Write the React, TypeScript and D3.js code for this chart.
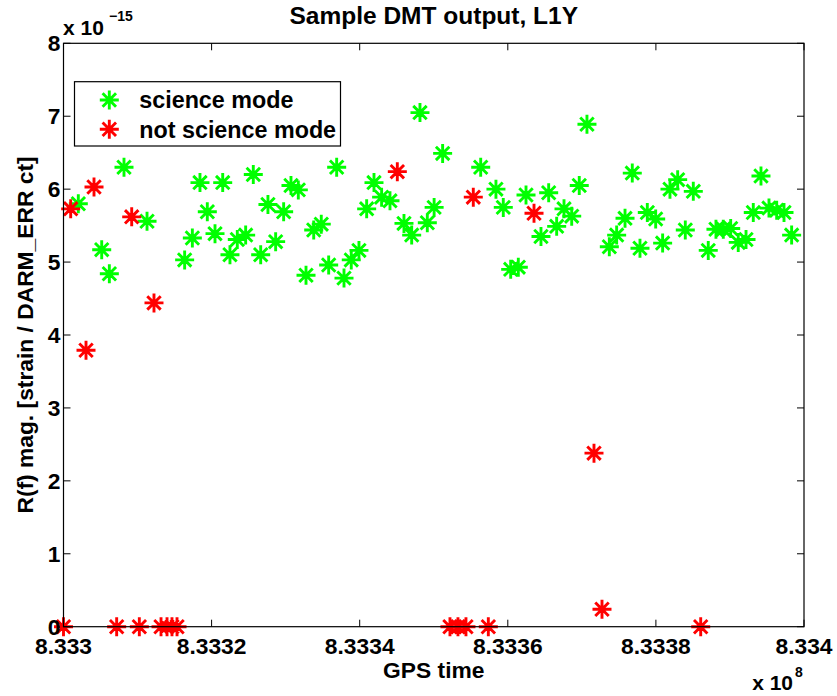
import React from "react";
import * as d3 from "d3";

// GPS time offsets (s) from 833300000, values in units of 1e-15
const scienceTime = [
  2000, 5160, 6190, 8170, 11280, 16360, 17400, 18430, 19420, 20460, 21500, 22480, 23470, 24600,
  25630, 26630, 27610, 28650, 29730, 30720, 31710, 32750, 33790, 34810, 35810, 36890, 37880,
  38860, 39900, 40940, 41930, 42960, 44090, 45980, 47020, 48140, 49130, 50050, 51200, 56340,
  58400, 59390, 60390, 61420, 62460, 64480, 65520, 66600, 67590, 68630, 69650, 70690, 73710,
  74700, 75830, 76810, 77850, 78840, 79970, 80910, 81900, 82940, 83970, 85050, 87070, 88110,
  89100, 90100, 91120, 92170, 93150, 94190, 95270, 96310, 97300, 98330,
];
const scienceValue = [
  5.80, 5.17, 4.84, 6.30, 5.56, 5.03, 5.33, 6.09, 5.69, 5.39, 6.09, 5.10, 5.31, 5.37,
  6.20, 5.10, 5.79, 5.28, 5.69, 6.05, 5.99, 4.82, 5.44, 5.52, 4.96, 6.30, 4.78,
  5.03, 5.16, 5.73, 6.09, 5.89, 5.84, 5.53, 5.37, 7.05, 5.54, 5.75, 6.49, 6.30,
  6.00, 5.75, 4.90, 4.93, 5.92, 5.35, 5.95, 5.49, 5.73, 5.63, 6.05, 6.89, 5.21,
  5.37, 5.60, 6.22, 5.19, 5.68, 5.59, 5.26, 6.00, 6.13, 5.44, 5.97, 5.16, 5.45,
  5.45, 5.46, 5.27, 5.31, 5.68, 6.18, 5.74, 5.71, 5.68, 5.37,
];
const notScienceTime = [
  0, 970, 3040, 4120, 7180, 9210, 10240, 12220, 13170, 13980, 14650, 15330, 45080,
  52190, 53270, 54350, 55340, 57370, 63540, 71640, 72720, 86050,
];
const notScienceValue = [
  0, 5.73, 3.79, 6.03, 0, 5.62, 0, 4.44, 0, 0, 0, 0, 6.24,
  0, 0, 0, 5.89, 0, 5.67, 2.38, 0.24, 0,
];

const gpsBase = 833300000;
const xTicks = [0, 20000, 40000, 60000, 80000, 100000];
const xTickLabels = ["8.333", "8.3332", "8.3334", "8.3336", "8.3338", "8.334"];
const yTicks = [0, 1, 2, 3, 4, 5, 6, 7, 8];
const yTickLabels = ["0", "1", "2", "3", "4", "5", "6", "7", "8"];
const legendLabels = ["science mode", "not science mode"];
const seriesColors = ["#00ff00", "#ff0000"];

const W = 837;
const H = 696;
const L = 63.5, R = 804, T = 43.3, B = 626.7;
const FONT = "'Liberation Sans', Arial, Helvetica, sans-serif";
const FS = 22.8;

function star(cx: number, cy: number, r: number) {
  const d = r * Math.SQRT1_2;
  return `M${cx - r},${cy}L${cx + r},${cy}M${cx},${cy - r}L${cx},${cy + r}` +
    `M${cx - d},${cy - d}L${cx + d},${cy + d}M${cx - d},${cy + d}L${cx + d},${cy - d}`;
}

export default function App() {
  const x = d3.scaleLinear().domain([gpsBase, gpsBase + 100000]).range([L, R]);
  const y = d3.scaleLinear().domain([0, 8]).range([B, T]);
  const r = 9.5;
  const sw = 2.9;
  const tick = 7;
  const series = [
    { t: scienceTime, v: scienceValue, c: seriesColors[0] },
    { t: notScienceTime, v: notScienceValue, c: seriesColors[1] },
  ];
  return (
    <svg width={W} height={H} style={{ position: "absolute", left: 0, top: 0, background: "#fff" }}
      fontFamily={FONT} fontWeight="bold">
      <rect x={0} y={0} width={W} height={H} fill="#fff" />
      {/* points */}
      {series.map((s, si) => (
        <path key={si}
          d={s.t.map((t, i) => star(x(gpsBase + t), y(s.v[i]), r)).join("")}
          stroke={s.c} strokeWidth={sw} fill="none" />
      ))}
      {/* axes box */}
      <rect x={L} y={T} width={R - L} height={B - T} fill="none" stroke="#000" strokeWidth={1.2} />
      {xTicks.map((t, i) => (
        <g key={"x" + i}>
          <line x1={x(gpsBase + t)} x2={x(gpsBase + t)} y1={B} y2={B - tick} stroke="#000" />
          <line x1={x(gpsBase + t)} x2={x(gpsBase + t)} y1={T} y2={T + tick} stroke="#000" />
          <text x={x(gpsBase + t)} y={654} textAnchor="middle" fontSize={FS}>{xTickLabels[i]}</text>
        </g>
      ))}
      {yTicks.map((t, i) => (
        <g key={"y" + i}>
          <line x1={L} x2={L + tick} y1={y(t)} y2={y(t)} stroke="#000" />
          <line x1={R} x2={R - tick} y1={y(t)} y2={y(t)} stroke="#000" />
          <text x={L - 3} y={y(t) + 8} textAnchor="end" fontSize={FS}>{yTickLabels[i]}</text>
        </g>
      ))}
      {/* exponents */}
      <text x={63} y={35} fontSize={21}>x 10</text>
      <text x={109} y={21} fontSize={14}>−15</text>
      <text x={793} y={690} textAnchor="end" fontSize={21}>x 10</text>
      <text x={795} y={677} fontSize={14}>8</text>
      {/* title and labels */}
      <text x={(L + R) / 2} y={24} textAnchor="middle" fontSize={24.5}>Sample DMT output, L1Y</text>
      <text x={(L + R) / 2} y={678} textAnchor="middle" fontSize={FS}>GPS time</text>
      <text transform={`translate(33,${(T + B) / 2}) rotate(-90)`} textAnchor="middle" fontSize={FS}>
        R(f) mag. [strain / DARM_ERR ct]
      </text>
      {/* legend */}
      <rect x={74.5} y={81.7} width={266} height={64.3} fill="#fff" stroke="#000" strokeWidth={1.2} />
      {legendLabels.map((lab, i) => (
        <g key={"l" + i}>
          <path d={star(109.3, 100 + i * 29.3, r)} stroke={seriesColors[i]} strokeWidth={sw} fill="none" />
          <text x={139.3} y={108 + i * 29.5} fontSize={23.3}>{lab}</text>
        </g>
      ))}
    </svg>
  );
}
